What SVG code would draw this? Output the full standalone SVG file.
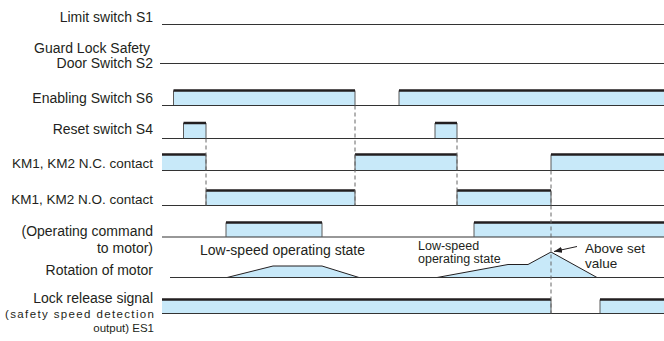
<svg xmlns="http://www.w3.org/2000/svg" width="664" height="341" viewBox="0 0 664 341">
<defs>
<style>
.lbl{font-family:"Liberation Sans",Arial,sans-serif;font-size:14px;fill:#231f20;text-anchor:end}
.st{font-family:"Liberation Sans",Arial,sans-serif;fill:#231f20}
.km{font-size:13.5px}
.sm{font-size:11.5px}
.base{stroke:#333;stroke-width:1.1;fill:none}
.fl{fill:#c8e9f9;stroke:none}
.hi{stroke:#231f20;stroke-width:2.4;fill:none}
.edge{stroke:#5a5a5a;stroke-width:1;fill:none}
.mot{fill:#c8e9f9;stroke:#231f20;stroke-width:1}
.dash{stroke:#666;stroke-width:1;stroke-dasharray:4 3;fill:none}
</style>
<marker id="ah" markerUnits="userSpaceOnUse" markerWidth="8" markerHeight="6" refX="8" refY="3" orient="auto">
<path d="M0,0L8,3L0,6z" fill="#231f20"/>
</marker>
</defs>
<rect width="664" height="341" fill="#fff"/>

<g id="s1">
<text class="lbl" x="153" y="22">Limit switch S1</text>
<path class="base" d="M162,24.5H664"/>
</g>

<g id="s2">
<text class="lbl" x="150" y="53">Guard Lock Safety</text>
<text class="lbl" x="153" y="68">Door Switch S2</text>
<path class="base" d="M160,63.5H664"/>
</g>

<g id="s6">
<text class="lbl" x="153" y="102.5">Enabling Switch S6</text>
<rect class="fl" x="173.5" y="90.5" width="181.5" height="14.5"/>
<rect class="fl" x="399" y="90.5" width="265" height="14.5"/>
<path class="base" d="M162,105.5H664"/>
<path class="edge" d="M173.5,105V90.5M355,90.5V105M399,105V90.5"/>
<path class="hi" d="M173.5,90.5H355M399,90.5H664"/>
</g>

<g id="s4">
<text class="lbl" x="153" y="134">Reset switch S4</text>
<rect class="fl" x="183.5" y="123" width="22.5" height="15"/>
<rect class="fl" x="435" y="123" width="22" height="15"/>
<path class="base" d="M162,138.5H664"/>
<path class="edge" d="M183.5,138V123M206,123V138M435,138V123M457,123V138"/>
<path class="hi" d="M183.5,123H206M435,123H457"/>
</g>

<g id="km-nc">
<text class="lbl km" x="153" y="168">KM1, KM2 N.C. contact</text>
<rect class="fl" x="162" y="154.5" width="44" height="16"/>
<rect class="fl" x="355" y="154.5" width="102" height="16"/>
<rect class="fl" x="551" y="154.5" width="113" height="16"/>
<path class="base" d="M162,170.5H664"/>
<path class="edge" d="M206,154.5V170M355,170V154.5M457,154.5V170M551,170V154.5"/>
<path class="hi" d="M162,154.5H206M355,154.5H457M551,154.5H664"/>
</g>

<g id="km-no">
<text class="lbl km" x="153" y="204">KM1, KM2 N.O. contact</text>
<rect class="fl" x="206" y="190.5" width="149" height="15"/>
<rect class="fl" x="457" y="190.5" width="94" height="15"/>
<path class="base" d="M162,205.5H664"/>
<path class="edge" d="M206,205V190.5M355,190.5V205M457,205V190.5M551,190.5V205"/>
<path class="hi" d="M206,190.5H355M457,190.5H551"/>
</g>

<g id="op-cmd">
<text class="lbl" x="153" y="236">(Operating command</text>
<text class="lbl" x="153" y="252.5">to motor)</text>
<rect class="fl" x="226" y="222.5" width="96" height="14.5"/>
<rect class="fl" x="474" y="222.5" width="190" height="14.5"/>
<path class="base" d="M162,237H664"/>
<path class="edge" d="M226,237V222.5M322,222.5V237M474,237V222.5"/>
<path class="hi" d="M226,222.5H322M474,222.5H664"/>
</g>

<g id="motor">
<text class="lbl" x="153" y="274.5">Rotation of motor</text>
<text class="st" x="200" y="255" font-size="14">Low-speed operating state</text>
<text class="st" x="418" y="249.5" font-size="12.5">Low-speed</text>
<text class="st" x="418" y="262.5" font-size="12.5">operating state</text>
<text class="st" x="585" y="253" font-size="13.5">Above set</text>
<text class="st" x="585" y="267.5" font-size="13.5">value</text>
<polygon class="mot" points="227,277.5 273,266 322,266 359,277.5"/>
<polygon class="mot" points="437,277.5 508,264.5 528,264.5 551,252 597,277.5"/>
<path class="base" d="M170,277.5H664"/>
</g>

<g id="es1">
<text class="lbl" x="153" y="302.5">Lock release signal</text>
<text class="lbl sm" x="154" y="317.5" textLength="149" lengthAdjust="spacing">(safety speed detection</text>
<text class="lbl sm" x="154" y="332">output) ES1</text>
<rect class="fl" x="162" y="299.5" width="389" height="14"/>
<rect class="fl" x="600" y="299.5" width="64" height="14"/>
<path class="base" d="M162,313.5H664"/>
<path class="edge" d="M551,299.5V313M600,313V299.5"/>
<path class="hi" d="M162,299.5H551M600,299.5H664"/>
</g>

<g id="connectors">
<path class="dash" d="M206,138.5V205.5M355,105.5V205.5M457,138.5V205.5M551,170.5V313.5"/>
<path d="M577,246.5L554,251.5" stroke="#231f20" stroke-width="1" fill="none" marker-end="url(#ah)"/>
</g>
</svg>
